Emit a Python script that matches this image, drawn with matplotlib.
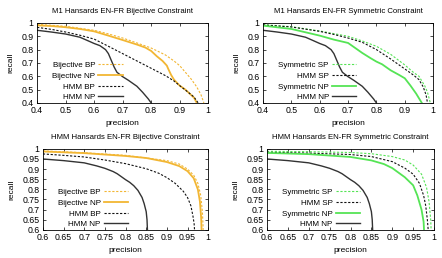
import matplotlib

matplotlib.use("Agg")
import matplotlib.pyplot as plt

plt.rcParams["font.family"] = ["Liberation Sans", "DejaVu Sans"]
plt.rcParams["font.size"] = 5.5

ORANGE, GREEN, BLACK, DARK = "#f2b633", "#55e455", "#111111", "#333333"

# ---- M1 bijective (top left) ----
m1_hmm_np_p = [0.40, 0.45, 0.50, 0.55, 0.58, 0.60, 0.62, 0.64, 0.65, 0.66, 0.67, 0.68,
               0.70, 0.72, 0.75, 0.77, 0.79, 0.80]
m1_hmm_np_r = [0.945, 0.932, 0.917, 0.893, 0.865, 0.846, 0.83, 0.80, 0.77, 0.72, 0.67, 0.63,
               0.597, 0.57, 0.525, 0.48, 0.43, 0.40]
m1_hmm_bp_p = [0.40, 0.45, 0.50, 0.55, 0.60, 0.65, 0.70, 0.75, 0.80, 0.85, 0.88, 0.90,
               0.93, 0.95, 0.965]
m1_hmm_bp_r = [0.967, 0.952, 0.932, 0.908, 0.879, 0.825, 0.77, 0.715, 0.66, 0.605, 0.565,
               0.53, 0.48, 0.445, 0.40]
m1_bij_np_p = [0.40, 0.45, 0.50, 0.55, 0.60, 0.65, 0.70, 0.75, 0.78, 0.80, 0.82, 0.84,
               0.855, 0.86, 0.87, 0.88, 0.90, 0.92, 0.94, 0.95, 0.96]
m1_bij_np_r = [0.982, 0.977, 0.968, 0.955, 0.937, 0.905, 0.872, 0.838, 0.815, 0.79, 0.75,
               0.715, 0.68, 0.655, 0.61, 0.575, 0.53, 0.50, 0.46, 0.44, 0.40]
m1_bij_bp_p = [0.40, 0.50, 0.60, 0.65, 0.70, 0.75, 0.80, 0.85, 0.88, 0.90, 0.92, 0.94,
               0.96, 0.975, 0.985]
m1_bij_bp_r = [0.99, 0.975, 0.945, 0.918, 0.887, 0.85, 0.812, 0.76, 0.715, 0.68, 0.63,
               0.58, 0.52, 0.46, 0.40]

# ---- M1 symmetric (top right) ----
m1_hmm_sp_p = [0.40, 0.50, 0.60, 0.65, 0.70, 0.75, 0.80, 0.85, 0.90, 0.93, 0.95, 0.965,
               0.975, 0.98]
m1_hmm_sp_r = [0.985, 0.97, 0.937, 0.914, 0.887, 0.855, 0.80, 0.73, 0.655, 0.61, 0.575,
               0.52, 0.46, 0.40]
m1_sym_sp_p = [0.40, 0.50, 0.60, 0.70, 0.75, 0.80, 0.85, 0.90, 0.93, 0.95, 0.97, 0.98, 0.99]
m1_sym_sp_r = [0.987, 0.972, 0.94, 0.90, 0.865, 0.825, 0.765, 0.685, 0.63, 0.60, 0.53,
               0.48, 0.40]
m1_sym_np_p = [0.40, 0.50, 0.55, 0.60, 0.65, 0.70, 0.72, 0.75, 0.78, 0.80, 0.82, 0.85,
               0.88, 0.90, 0.92, 0.94, 0.96]
m1_sym_np_r = [0.98, 0.955, 0.93, 0.905, 0.875, 0.85, 0.82, 0.775, 0.735, 0.71, 0.69,
               0.645, 0.61, 0.585, 0.53, 0.47, 0.40]

# ---- HMM bijective (bottom left) ----
hmm_hmm_np_p = [0.60, 0.65, 0.70, 0.73, 0.75, 0.77, 0.78, 0.80, 0.81, 0.82, 0.83, 0.84,
                0.845, 0.85, 0.852, 0.853]
hmm_hmm_np_r = [0.95, 0.942, 0.931, 0.916, 0.904, 0.888, 0.877, 0.848, 0.835, 0.818, 0.795,
                0.76, 0.73, 0.69, 0.65, 0.60]
hmm_hmm_bp_p = [0.60, 0.65, 0.70, 0.75, 0.80, 0.85, 0.88, 0.90, 0.92, 0.94, 0.95, 0.958,
                0.963, 0.966, 0.967]
hmm_hmm_bp_r = [0.975, 0.968, 0.96, 0.945, 0.927, 0.902, 0.88, 0.858, 0.83, 0.79, 0.76,
                0.72, 0.67, 0.63, 0.60]
hmm_bij_np_p = [0.60, 0.70, 0.80, 0.85, 0.90, 0.93, 0.95, 0.965, 0.975, 0.98, 0.983, 0.984]
hmm_bij_np_r = [0.987, 0.979, 0.965, 0.955, 0.935, 0.915, 0.89, 0.855, 0.80, 0.74, 0.66,
                0.60]
hmm_bij_bp_p = [0.60, 0.70, 0.80, 0.90, 0.93, 0.95, 0.965, 0.975, 0.982, 0.986, 0.988]
hmm_bij_bp_r = [0.99, 0.981, 0.968, 0.942, 0.925, 0.90, 0.87, 0.83, 0.77, 0.69, 0.60]

# ---- HMM symmetric (bottom right) ----
hmm_hmm_sp_p = [0.60, 0.70, 0.80, 0.85, 0.90, 0.93, 0.95, 0.965, 0.975, 0.98, 0.984, 0.986]
hmm_hmm_sp_r = [0.983, 0.979, 0.972, 0.962, 0.937, 0.905, 0.875, 0.83, 0.77, 0.72, 0.65,
                0.60]
hmm_sym_sp_p = [0.60, 0.70, 0.80, 0.85, 0.90, 0.93, 0.95, 0.97, 0.982, 0.988, 0.992, 0.993]
hmm_sym_sp_r = [0.988, 0.986, 0.982, 0.976, 0.962, 0.945, 0.92, 0.875, 0.81, 0.74, 0.65,
                0.60]
hmm_sym_np_p = [0.60, 0.70, 0.80, 0.85, 0.88, 0.90, 0.93, 0.95, 0.96, 0.97, 0.975, 0.976]
hmm_sym_np_r = [0.98, 0.974, 0.96, 0.943, 0.925, 0.905, 0.86, 0.82, 0.77, 0.70, 0.64, 0.60]

panels = [
    dict(rect=[0.084, 0.601, 0.387, 0.310], title="M1 Hansards EN-FR Bijective Constraint",
         xlim=(0.4, 1.0), step=0.1,
         series=[("Bijective BP", m1_bij_bp_p, m1_bij_bp_r, ORANGE, "--", 0.8),
                 ("Bijective NP", m1_bij_np_p, m1_bij_np_r, ORANGE, "-", 1.3),
                 ("HMM BP", m1_hmm_bp_p, m1_hmm_bp_r, BLACK, "--", 0.8),
                 ("HMM NP", m1_hmm_np_p, m1_hmm_np_r, DARK, "-", 1.0)]),
    dict(rect=[0.595, 0.601, 0.385, 0.310], title="M1 Hansards EN-FR Symmetric Constraint",
         xlim=(0.4, 1.0), step=0.1,
         series=[("Symmetric SP", m1_sym_sp_p, m1_sym_sp_r, GREEN, "--", 0.8),
                 ("HMM SP", m1_hmm_sp_p, m1_hmm_sp_r, BLACK, "--", 0.8),
                 ("Symmetric NP", m1_sym_np_p, m1_sym_np_r, GREEN, "-", 1.3),
                 ("HMM NP", m1_hmm_np_p, m1_hmm_np_r, DARK, "-", 1.0)]),
    dict(rect=[0.097, 0.109, 0.374, 0.314], title="HMM Hansards EN-FR Bijective Constraint",
         xlim=(0.6, 1.0), step=0.05,
         series=[("Bijective BP", hmm_bij_bp_p, hmm_bij_bp_r, ORANGE, "--", 0.8),
                 ("Bijective NP", hmm_bij_np_p, hmm_bij_np_r, ORANGE, "-", 1.3),
                 ("HMM BP", hmm_hmm_bp_p, hmm_hmm_bp_r, BLACK, "--", 0.8),
                 ("HMM NP", hmm_hmm_np_p, hmm_hmm_np_r, DARK, "-", 1.0)]),
    dict(rect=[0.604, 0.109, 0.378, 0.314], title="HMM Hansards EN-FR Symmetric Constraint",
         xlim=(0.6, 1.0), step=0.05,
         series=[("Symmetric SP", hmm_sym_sp_p, hmm_sym_sp_r, GREEN, "--", 0.8),
                 ("HMM SP", hmm_hmm_sp_p, hmm_hmm_sp_r, BLACK, "--", 0.8),
                 ("Symmetric NP", hmm_sym_np_p, hmm_sym_np_r, GREEN, "-", 1.3),
                 ("HMM NP", hmm_hmm_np_p, hmm_hmm_np_r, DARK, "-", 1.0)]),
]


def fmt(v):
    return f"{v:.2f}".rstrip("0").rstrip(".")


fig = plt.figure(figsize=(4.42, 2.58), dpi=100)
for p in panels:
    ax = fig.add_axes(p["rect"])
    for label, xs, ys, col, ls, lw in p["series"]:
        ax.plot(xs, ys, color=col, ls=ls, lw=lw, label=label,
                dashes=(2, 1.5) if ls == "--" else (None, None))
    lo, hi = p["xlim"]
    n = int(round((hi - lo) / p["step"]))
    ticks = [lo + i * p["step"] for i in range(n + 1)]
    ax.set_xlim(lo, hi); ax.set_ylim(lo, hi)
    ax.set_xticks(ticks); ax.set_xticklabels([fmt(t) for t in ticks])
    ax.set_yticks(ticks); ax.set_yticklabels([fmt(t) for t in ticks])
    ax.tick_params(direction="in", length=2.5, width=0.5, top=True, right=True, pad=2.5,
                   labelsize=6.3)
    for s in ax.spines.values():
        s.set_linewidth(0.6)
    ax.set_title(p["title"], fontsize=5.6, pad=7)
    ax.set_xlabel("precision", fontsize=6, labelpad=3)
    ax.set_ylabel("recall", fontsize=6, labelpad=5)
    leg = ax.legend(loc="lower left", bbox_to_anchor=(0.06, -0.04), frameon=False,
                    markerfirst=False, fontsize=5.8, handlelength=3.0, handletextpad=0.4,
                    labelspacing=0.38, borderaxespad=0.2)
    for col in leg._legend_handle_box.get_children():
        col.align = "right"

fig.savefig("out.png", dpi=100)
